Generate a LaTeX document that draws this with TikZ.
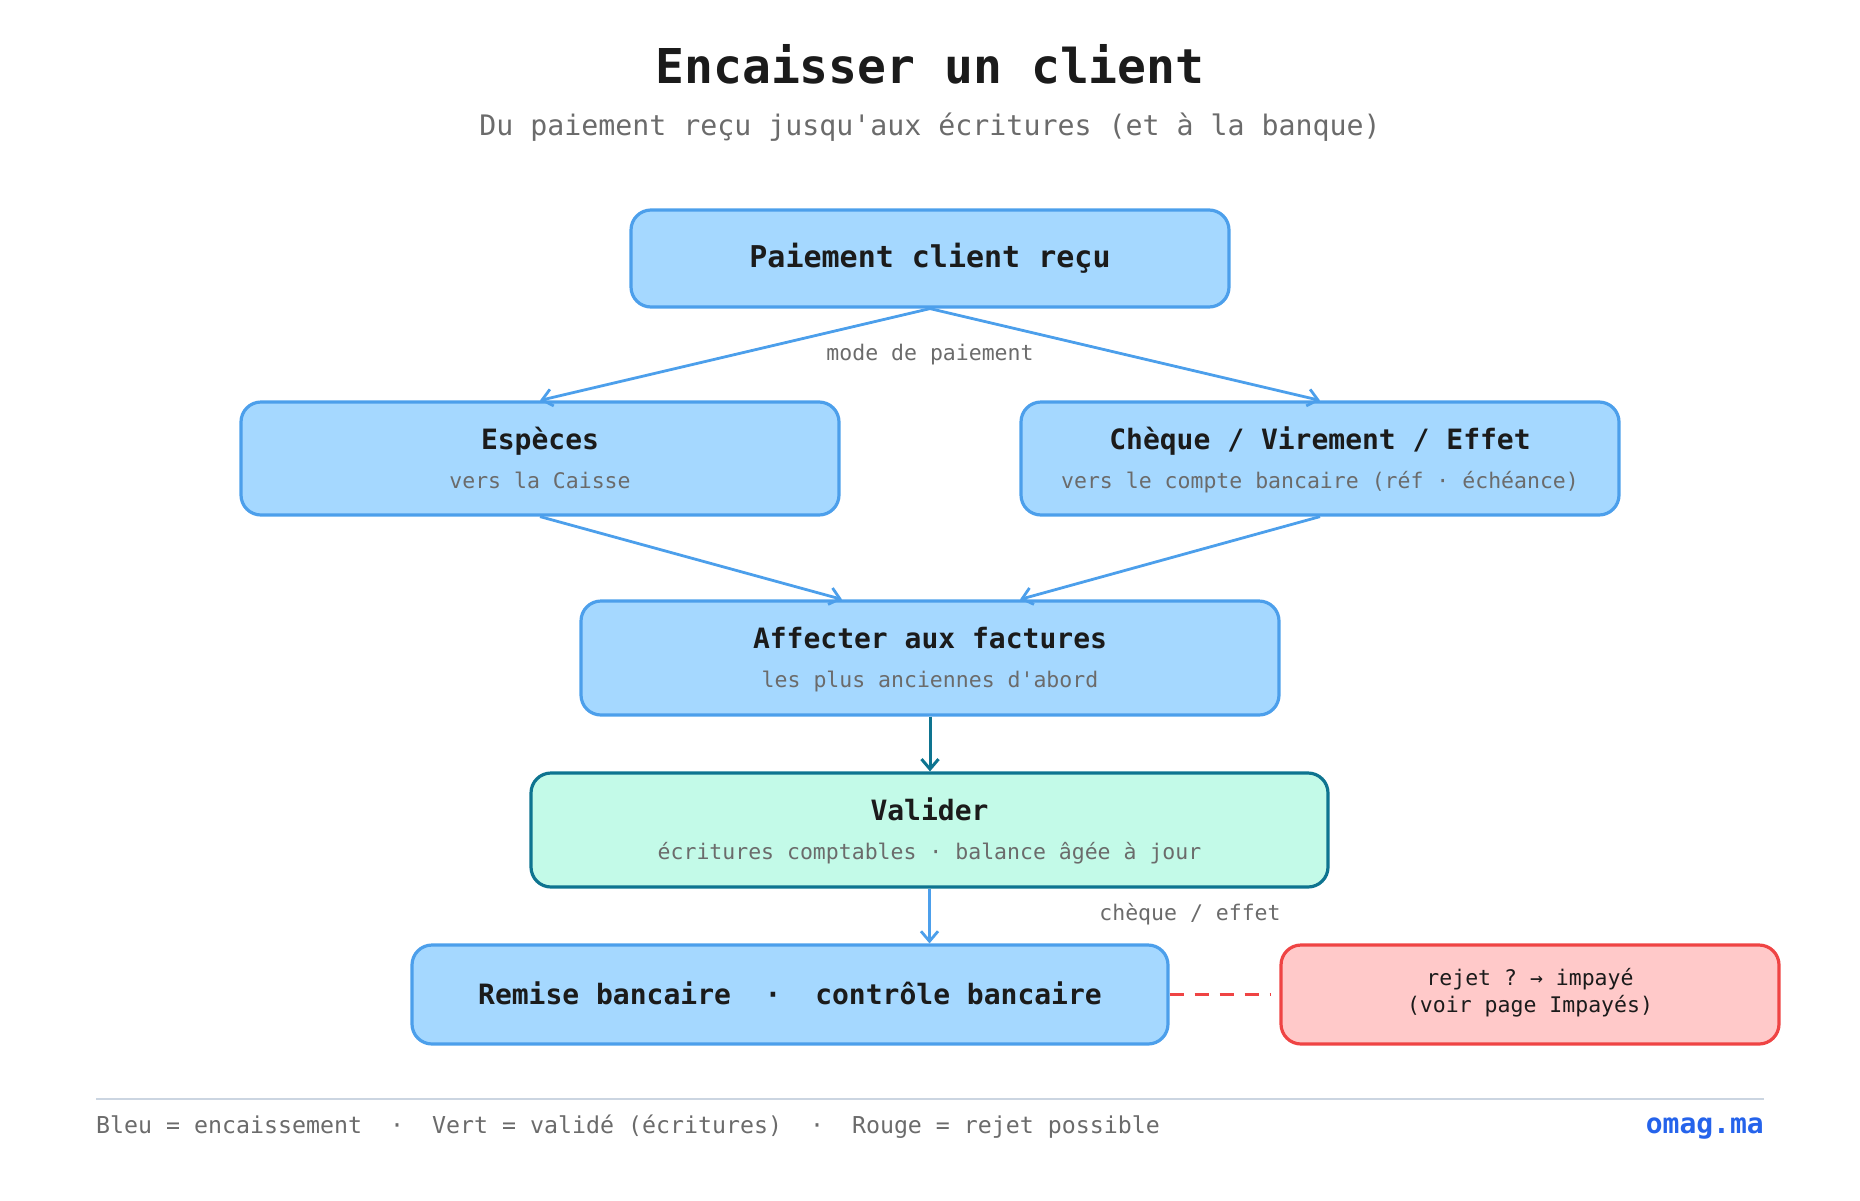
\documentclass[tikz,border=0pt]{standalone}
\usepackage{fontspec}
\setmonofont{DejaVu Sans Mono}
\renewcommand{\familydefault}{\ttdefault}
\usetikzlibrary{arrows.meta,calc}
\definecolor{bluefill}{HTML}{A5D8FF}
\definecolor{bluestroke}{HTML}{4C9FEB}
\definecolor{greenfill}{HTML}{C3FAE8}
\definecolor{tealstroke}{HTML}{0E7490}
\definecolor{redfill}{HTML}{FFC9C9}
\definecolor{redstroke}{HTML}{EF4444}
\definecolor{ink}{HTML}{1B1B1B}
\definecolor{subgray}{HTML}{6B6B6B}
\definecolor{rulegray}{HTML}{CBD5E1}
\definecolor{brand}{HTML}{2563EB}
\tikzset{
  boxbase/.style={rounded corners=20pt, line width=3.2pt, inner sep=0pt},
  bluebox/.style={boxbase, draw=bluestroke, fill=bluefill},
  greenbox/.style={boxbase, draw=tealstroke, fill=greenfill},
  redbox/.style={boxbase, draw=redstroke, fill=redfill},
  ttl/.style={anchor=base, inner sep=0pt, text=ink, font=\ttfamily\fontsize{28}{34}\selectfont\bfseries},
  subt/.style={anchor=base, inner sep=0pt, text=subgray, font=\ttfamily\fontsize{21.5}{26}\selectfont},
  bluearrow/.style={draw=bluestroke, line width=2.8pt, -{Straight Barb[length=10pt,width=17pt]}},
  tealarrow/.style={draw=tealstroke, line width=3pt, -{Straight Barb[length=10pt,width=17pt]}},
}
\begin{document}
\begin{tikzpicture}[x=1pt,y=-1pt, font=\ttfamily]
\useasboundingbox (0,0) rectangle (1860,1200);
% title
\node[anchor=base, inner sep=0pt, text=ink, font=\ttfamily\fontsize{48}{56}\selectfont\bfseries] (title) at (930,83) {Encaisser un client};
\node[anchor=base, inner sep=0pt, text=subgray, font=\ttfamily\fontsize{28.25}{34}\selectfont] (subtitle) at (930,135) {Du paiement reçu jusqu'aux écritures (et à la banque)};

% boxes
\node[bluebox, minimum width=598pt, minimum height=97pt] (top) at (930,258.5) {};
\node[ttl, font=\ttfamily\fontsize{30}{36}\selectfont\bfseries] (toptxt) at (930,267) {Paiement client reçu};

\node[bluebox, minimum width=598pt, minimum height=113pt] (esp) at (540,458.5) {};
\node[ttl] (esptxt) at (540,449.5) {Espèces};
\node[subt] (espsub) at (540,488) {vers la Caisse};

\node[bluebox, minimum width=598pt, minimum height=113pt] (chq) at (1320,458.5) {};
\node[ttl] (chqtxt) at (1320,449.5) {Chèque / Virement / Effet};
\node[subt] (chqsub) at (1320,488) {vers le compte bancaire (réf · échéance)};

\node[bluebox, minimum width=698pt, minimum height=114pt] (aff) at (930,658) {};
\node[ttl] (afftxt) at (930,648.5) {Affecter aux factures};
\node[subt] (affsub) at (930,687) {les plus anciennes d'abord};

\node[greenbox, minimum width=797pt, minimum height=114pt] (val) at (929.5,830) {};
\node[ttl] (valtxt) at (929.5,820.5) {Valider};
\node[subt] (valsub) at (929.5,859) {écritures comptables · balance âgée à jour};

\node[bluebox, minimum width=756pt, minimum height=99pt] (rem) at (790,994.5) {};
\node[ttl] (remtxt) at (790,1004) {Remise bancaire\ \ ·\ \ contrôle bancaire};

\node[redbox, minimum width=498pt, minimum height=99pt] (rej) at (1530,994.5) {};
\node[anchor=base, inner sep=0pt, text=ink, font=\ttfamily\fontsize{21.5}{27}\selectfont] (rej1) at (1530,985.5) {rejet ? → impayé};
\node[anchor=base, inner sep=0pt, text=ink, font=\ttfamily\fontsize{21.5}{27}\selectfont] (rej2) at (1530,1012.5) {(voir page Impayés)};

% connectors
\draw[bluearrow] (top.south) -- (esp.north);
\draw[bluearrow] (top.south) -- (chq.north);
\node[subt] (modelbl) at (930,360.5) {mode de paiement};
\draw[bluearrow] (esp.south) -- ($(aff.north)+(-88,0)$);
\draw[bluearrow] (chq.south) -- ($(aff.north)+(90,0)$);
\draw[tealarrow] (aff.south) -- (aff.south |- val.north);
\draw[bluearrow] (val.south) -- (val.south |- rem.north);
\node[subt] (chqlbl) at (1190,920) {chèque / effet};
\draw[draw=redstroke, line width=3.2pt, dash pattern=on 14pt off 11pt] (rem.east) -- ($(rej.west)+(-8,0)$);

% footer
\draw[draw=rulegray, line width=1.5pt] (96,1099) coordinate (fl) -- (1764,1099) coordinate (fr);
\node[anchor=base west, inner sep=0pt, text=subgray, font=\ttfamily\fontsize{23.25}{28}\selectfont] (legend) at (96,1133) {Bleu = encaissement\ \ ·\ \ Vert = validé (écritures)\ \ ·\ \ Rouge = rejet possible};
\node[anchor=base east, inner sep=0pt, text=brand, font=\ttfamily\fontsize{28}{34}\selectfont\bfseries] (brandtxt) at (1764,1133) {omag.ma};
\end{tikzpicture}
\end{document}
